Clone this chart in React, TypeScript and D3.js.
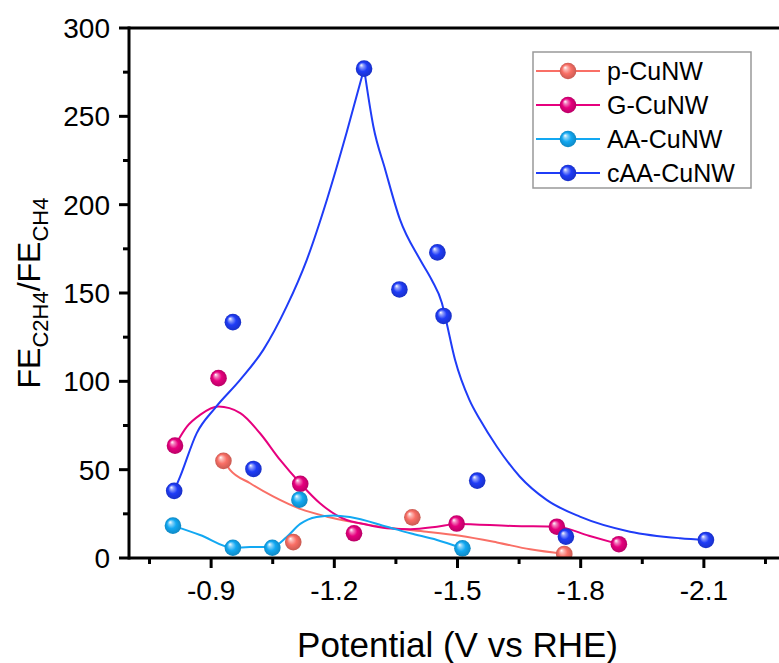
import React from "react";
import * as d3 from "d3";

// ---------- data ----------
const seriesNames = ["p-CuNW", "G-CuNW", "AA-CuNW", "cAA-CuNW"];
const seriesColors = ["#F96F66", "#E6007E", "#12A8F2", "#1F3CF7"];

const pX = [-0.93, -1.1, -1.39, -1.76];
const pY = [55, 9, 23, 2.3];
const gX = [-0.812, -0.918, -1.117, -1.248, -1.498, -1.742, -1.893];
const gY = [63.6, 101.8, 42, 14, 19.5, 17.7, 7.8];
const aaX = [-0.807, -0.953, -1.049, -1.115, -1.512];
const aaY = [18.3, 5.8, 5.8, 33, 5.5];
const caaX = [-0.81, -0.953, -1.003, -1.2725, -1.3585, -1.451, -1.466, -1.548, -1.764, -2.105];
const caaY = [38, 133.5, 50.4, 277, 152, 173, 137, 43.8, 12.1, 10.2];

// smoothed fit lines
const pFitX = [-0.93, -0.946, -0.995, -1.052, -1.117, -1.182, -1.238, -1.344, -1.425, -1.506, -1.596, -1.677, -1.76];
const pFitY = [55.1, 49.9, 42.3, 34.7, 27.8, 23.4, 20.6, 16.8, 14.9, 12.6, 8.8, 4.9, 2.3];
const gFitX = [-0.812, -0.841, -0.873, -0.918, -0.971, -1.019, -1.068, -1.117, -1.165, -1.23, -1.263, -1.328, -1.385, -1.45, -1.498, -1.636, -1.742, -1.82, -1.893];
const gFitY = [63.6, 74.4, 81, 85.7, 82, 70.6, 55.5, 42.3, 31, 21.5, 19.7, 16.8, 16.3, 17.7, 19.3, 18.1, 17.7, 12.6, 7.8];
const aaFitX = [-0.807, -0.873, -0.953, -0.995, -1.049, -1.084, -1.117, -1.157, -1.198, -1.238, -1.328, -1.385, -1.45, -1.512];
const aaFitY = [18.3, 13, 5.8, 6.2, 6.2, 11.9, 19.3, 23.2, 24.1, 23.2, 17.7, 14, 10.2, 5.5];
const caaRiseX = [-0.81, -0.8245, -0.865, -0.91, -0.9706, -1.027, -1.084, -1.133, -1.182, -1.23, -1.2725];
const caaRiseY = [38, 46, 70.7, 85, 100.8, 117.8, 142.4, 168.8, 202.8, 240.8, 277];
const caaFallX = [-1.2725, -1.295, -1.324, -1.36, -1.409, -1.437, -1.462, -1.47, -1.494, -1.529, -1.555, -1.596, -1.652, -1.717, -1.798, -1.92, -2.042, -2.105];
const caaFallY = [277, 244.4, 219.8, 191.5, 168.8, 157.5, 144.3, 136.7, 112.2, 89.5, 78.2, 63, 46, 32.9, 23.4, 14.9, 11.2, 10.2];

const xMajor = [-0.9, -1.2, -1.5, -1.8, -2.1];
const xMinor = [-0.75, -1.05, -1.35, -1.65, -1.95, -2.25];
const yMajor = [0, 50, 100, 150, 200, 250, 300];
const yMinor = [25, 75, 125, 175, 225, 275];

const FONT = "'Liberation Sans', Arial, Helvetica, sans-serif";

export default function App() {
  const W = 779, H = 663;
  const x = d3.scaleLinear().domain([-0.7, -2.3]).range([129, 786]);
  const y = d3.scaleLinear().domain([0, 300]).range([558, 28]);
  const line = d3
    .line<[number, number]>()
    .x((d) => x(d[0]))
    .y((d) => y(d[1]))
    .curve(d3.curveMonotoneX);
  const zip = (a: number[], b: number[]) => a.map((v, i) => [v, b[i]] as [number, number]);

  const pts = [zip(pX, pY), zip(gX, gY), zip(aaX, aaY), zip(caaX, caaY)];
  const fits = [
    [zip(pFitX, pFitY)],
    [zip(gFitX, gFitY)],
    [zip(aaFitX, aaFitY)],
    [zip(caaRiseX, caaRiseY), zip(caaFallX, caaFallY)],
  ];
  const R = 8.3;
  const [x0, x1] = x.range();
  const [yb, yt] = y.range();

  const Ball = ({ cx, cy, i, r = R }: { cx: number; cy: number; i: number; r?: number }) => (
    <circle cx={cx} cy={cy} r={r} fill={`url(#grad${i})`} />
  );

  return (
    <svg
      width={W}
      height={H}
      style={{ position: "absolute", left: 0, top: 0, background: "#fff" }}
      fontFamily={FONT}
    >
      <defs>
        {seriesColors.map((c, i) => {
          const cc = d3.color(c)!;
          return (
            <radialGradient key={i} id={`grad${i}`} cx="50%" cy="50%" r="50%" fx="32%" fy="28%">
              <stop offset="0%" stopColor="#ffffff" />
              <stop offset="22%" stopColor={d3.interpolateRgb("#ffffff", c)(0.5)} />
              <stop offset="55%" stopColor={c} />
              <stop offset="100%" stopColor={cc.darker(0.6).formatHex()} />
            </radialGradient>
          );
        })}
        <clipPath id="plotClip">
          <rect x={x0} y={yt} width={W - x0} height={yb - yt} />
        </clipPath>
      </defs>

      <g clipPath="url(#plotClip)">
        {fits.map((segs, i) =>
          segs.map((seg, j) => (
            <path key={`${i}-${j}`} d={line(seg) || ""} fill="none" stroke={seriesColors[i]} strokeWidth={2} />
          ))
        )}
        {pts.map((s, i) =>
          s.map((d, j) => <Ball key={`${i}-${j}`} cx={x(d[0])} cy={y(d[1])} i={i} />)
        )}
      </g>

      {/* axes */}
      <line x1={x0} x2={W} y1={yb} y2={yb} stroke="#000" strokeWidth={3} />
      <line x1={x0} x2={W} y1={yt} y2={yt} stroke="#000" strokeWidth={3} />
      <line x1={x0} x2={x0} y1={yt - 1.5} y2={yb + 1.5} stroke="#000" strokeWidth={3} />
      {xMajor.map((t) => (
        <g key={t}>
          <line x1={x(t)} x2={x(t)} y1={yb} y2={yb + 10} stroke="#000" strokeWidth={3} />
          <text x={x(t)} y={600} fontSize={28} textAnchor="middle">
            {t.toFixed(1).replace("-", "-")}
          </text>
        </g>
      ))}
      {xMinor.map((t) => (
        <line key={t} x1={x(t)} x2={x(t)} y1={yb} y2={yb + 6} stroke="#000" strokeWidth={3} />
      ))}
      {yMajor.map((t) => (
        <g key={t}>
          <line x1={x0} x2={x0 - 10} y1={y(t)} y2={y(t)} stroke="#000" strokeWidth={3} />
          <text x={110} y={y(t) + 10} fontSize={28} textAnchor="end">
            {t}
          </text>
        </g>
      ))}
      {yMinor.map((t) => (
        <line key={t} x1={x0} x2={x0 - 6} y1={y(t)} y2={y(t)} stroke="#000" strokeWidth={3} />
      ))}

      {/* axis titles */}
      <text x={(x0 + 786) / 2} y={657} fontSize={35} textAnchor="middle">
        Potential (V vs RHE)
      </text>
      <text transform={`translate(40,${(yt + yb) / 2}) rotate(-90)`} fontSize={32} textAnchor="middle">
        FE<tspan fontSize={22} dy={8}>C2H4</tspan>
        <tspan dy={-8}>/FE</tspan>
        <tspan fontSize={22} dy={8}>CH4</tspan>
      </text>

      {/* legend */}
      <rect x={533} y={52} width={218} height={136} fill="#fff" stroke="#999" strokeWidth={1.5} />
      {seriesNames.map((n, i) => {
        const ly = 71 + i * 34;
        return (
          <g key={n}>
            <line x1={536} x2={600} y1={ly} y2={ly} stroke={seriesColors[i]} strokeWidth={2} />
            <Ball cx={568} cy={ly} i={i} />
            <text x={607} y={ly + 9} fontSize={25}>
              {n}
            </text>
          </g>
        );
      })}
    </svg>
  );
}
